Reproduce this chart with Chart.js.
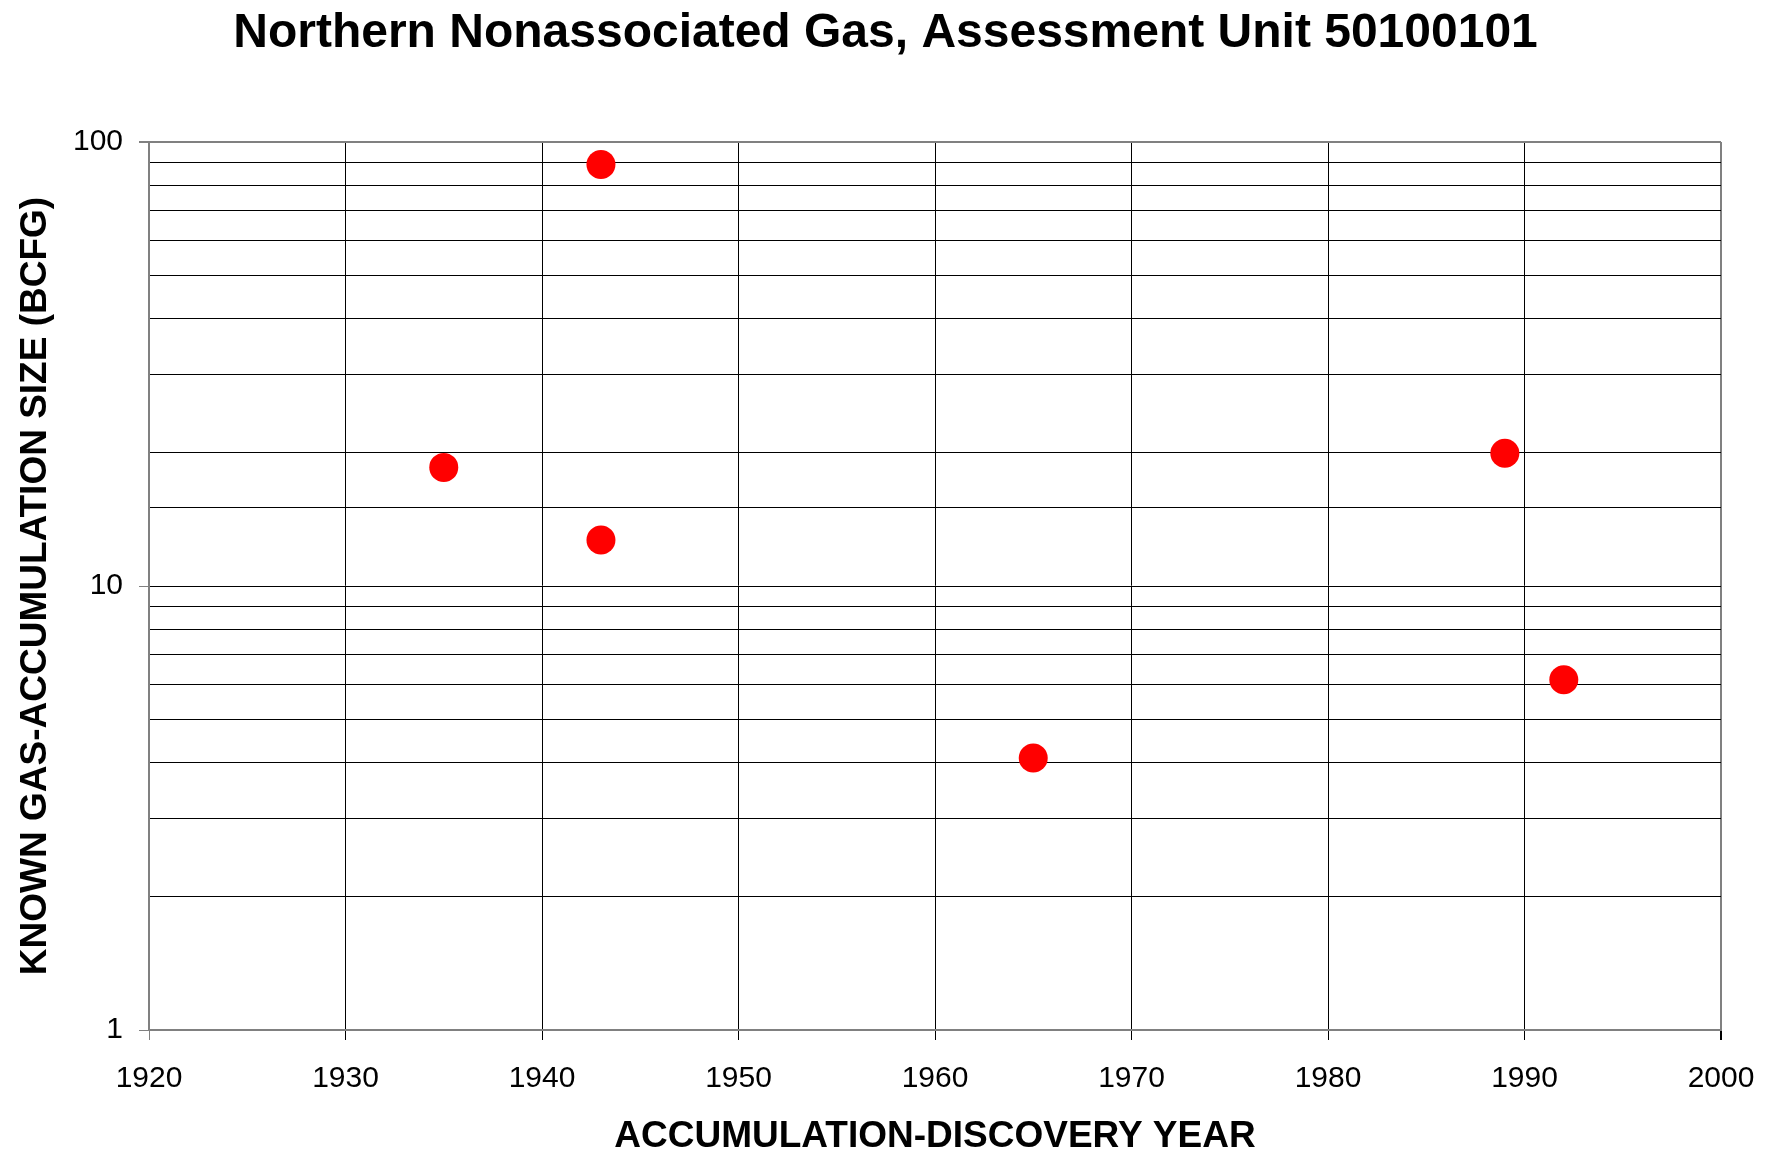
<!DOCTYPE html>
<html>
<head>
<meta charset="utf-8">
<title>Northern Nonassociated Gas</title>
<script src="https://cdn.jsdelivr.net/npm/chart.js@4/dist/chart.umd.min.js"></script>
<style>
  html, body { margin: 0; padding: 0; background: #fff; }
  #wrap { width: 1771px; height: 1154px; }
</style>
</head>
<body>
<div id="wrap"><canvas id="gasChart" width="1771" height="1154"></canvas></div>
<script>
// Discovery year and size (BCFG) of each known accumulation
const discoveryYears = [1935, 1943, 1943, 1965, 1989, 1992];
const accumulationSizes = [18.5, 89, 12.7, 4.1, 19.9, 6.15];

// Axis ranges and labelled ticks
const yearRange = [1920, 2000];
const yearStep = 10;
const sizeRange = [1, 100];
const sizeLabels = [1, 10, 100];

const frameColor = '#808080';
const gridColor = '#000000';
const fontFamily = "'Liberation Sans', Arial, sans-serif";

const points = discoveryYears.map((yr, i) => ({ x: yr, y: accumulationSizes[i] }));

const ctx = document.getElementById('gasChart').getContext('2d');

new Chart(ctx, {
  type: 'scatter',
  data: {
    datasets: [{
      label: 'Accumulations',
      data: points,
      backgroundColor: '#ff0000',
      borderWidth: 0,
      pointRadius: 14.5,
      pointHoverRadius: 14.5
    }]
  },
  options: {
    responsive: false,
    animation: false,
    events: [],
    layout: { padding: { left: 50, right: 50, top: 0, bottom: 0 } },
    plugins: {
      legend: { display: false },
      tooltip: { enabled: false },
      title: {
        display: true,
        text: 'Northern Nonassociated Gas, Assessment Unit 50100101',
        color: '#000',
        font: { family: fontFamily, size: 48, weight: 'bold', lineHeight: 1.2 },
        padding: { top: 5, bottom: 79.4 }
      }
    },
    scales: {
      x: {
        type: 'linear',
        min: yearRange[0],
        max: yearRange[1],
        afterFit: (scale) => {
          scale.height = 124;
          scale.paddingLeft = 0;
          scale.paddingRight = 0;
        },
        ticks: {
          stepSize: yearStep,
          color: '#000',
          padding: 21,
          autoSkip: false,
          maxRotation: 0,
          font: { family: fontFamily, size: 30 },
          callback: (v) => String(v)
        },
        grid: {
          drawTicks: true,
          tickLength: 10,
          color: (c) => (c.tick && c.tick.value === yearRange[1]) ? frameColor : gridColor,
          lineWidth: (c) => (c.tick && c.tick.value === yearRange[1]) ? 2 : 1,
          tickColor: (c) => (c.tick && c.tick.value === yearRange[0]) ? frameColor : gridColor
        },
        border: { display: true, color: frameColor, width: 2 },
        title: {
          display: true,
          text: 'ACCUMULATION-DISCOVERY YEAR',
          color: '#000',
          font: { family: fontFamily, size: 37, weight: 'bold', lineHeight: 1.2 },
          padding: { top: 0, bottom: -5.3 }
        }
      },
      y: {
        type: 'logarithmic',
        min: sizeRange[0],
        max: sizeRange[1],
        afterFit: (scale) => { scale.width = 99; },
        ticks: {
          color: '#000',
          padding: 16,
          autoSkip: false,
          font: { family: fontFamily, size: 30 },
          callback: (v) => sizeLabels.includes(v) ? String(v) : ''
        },
        grid: {
          drawTicks: true,
          tickLength: 10,
          color: (c) => (c.tick && c.tick.value === sizeRange[1]) ? frameColor : gridColor,
          lineWidth: (c) => (c.tick && c.tick.value === sizeRange[1]) ? 2 : 1,
          tickColor: (c) => (c.tick && sizeLabels.includes(c.tick.value)) ? frameColor : 'rgba(0,0,0,0)'
        },
        border: { display: true, color: frameColor, width: 2 },
        title: {
          display: true,
          text: 'KNOWN GAS-ACCUMULATION SIZE (BCFG)',
          color: '#000',
          font: { family: fontFamily, size: 37, weight: 'bold', lineHeight: 1.2 },
          padding: { top: -36.5, bottom: 0 }
        }
      }
    }
  }
});
</script>
</body>
</html>
